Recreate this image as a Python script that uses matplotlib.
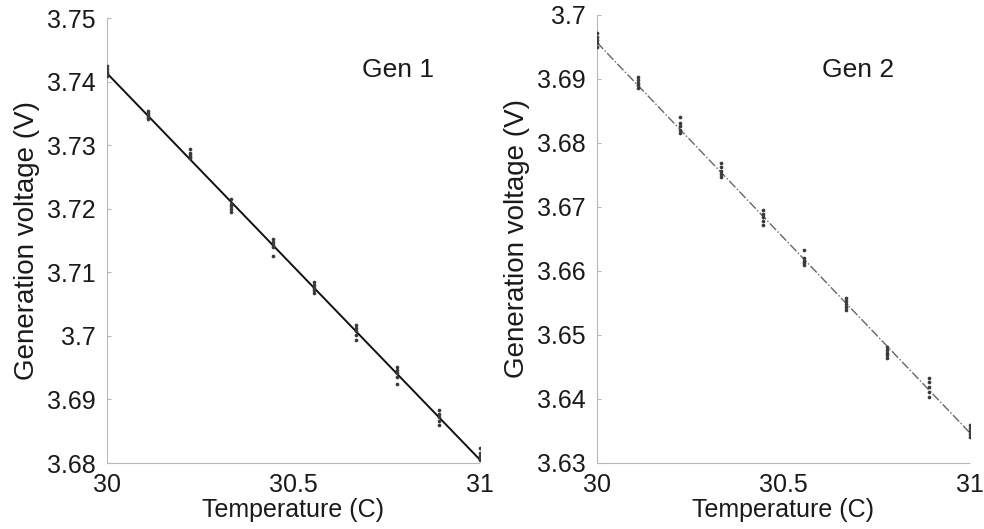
import numpy as np
import matplotlib; matplotlib.use("Agg")
import matplotlib.pyplot as plt

plt.rcParams['font.family'] = ['Liberation Sans', 'DejaVu Sans']

# temperatures (C) at which voltages were sampled
temps = [30.0, 30.111, 30.222, 30.333, 30.444, 30.556, 30.667, 30.778, 30.889, 31.0]

gen1_v = [
    [3.7425, 3.7420, 3.7415, 3.7412, 3.7409],
    [3.7354, 3.7350, 3.7347, 3.7344, 3.7341],
    [3.7294, 3.7288, 3.7284, 3.7281, 3.7279],
    [3.7215, 3.7208, 3.7204, 3.7200, 3.7195],
    [3.7153, 3.7147, 3.7143, 3.7139, 3.7125],
    [3.7084, 3.7080, 3.7076, 3.7072, 3.7068],
    [3.7017, 3.7012, 3.7007, 3.7001, 3.6993],
    [3.6951, 3.6946, 3.6941, 3.6936, 3.6924],
    [3.6883, 3.6877, 3.6872, 3.6866, 3.6860],
    [3.6823, 3.6816, 3.6811, 3.6807, 3.6804],
]
gen2_v = [
    [3.6972, 3.6966, 3.6961, 3.6956, 3.6950],
    [3.6903, 3.6898, 3.6894, 3.6890, 3.6886],
    [3.6841, 3.6831, 3.6826, 3.6821, 3.6816],
    [3.6769, 3.6763, 3.6757, 3.6752, 3.6747],
    [3.6695, 3.6689, 3.6684, 3.6678, 3.6672],
    [3.6633, 3.6620, 3.6616, 3.6612, 3.6609],
    [3.6558, 3.6553, 3.6548, 3.6543, 3.6539],
    [3.6481, 3.6476, 3.6472, 3.6468, 3.6464],
    [3.6433, 3.6426, 3.6419, 3.6411, 3.6403],
    [3.6359, 3.6355, 3.6350, 3.6345, 3.6341],
]

# linear fit lines (endpoints)
fit_x = [30.0, 31.0]
fit1_y = [3.7413, 3.6805]
fit2_y = [3.6957, 3.6347]

x_ticks = [30, 30.5, 31]
x_labels = ["30", "30.5", "31"]
y1_ticks = [3.68, 3.69, 3.70, 3.71, 3.72, 3.73, 3.74, 3.75]
y1_labels = ["3.68", "3.69", "3.7", "3.71", "3.72", "3.73", "3.74", "3.75"]
y2_ticks = [3.63, 3.64, 3.65, 3.66, 3.67, 3.68, 3.69, 3.70]
y2_labels = ["3.63", "3.64", "3.65", "3.66", "3.67", "3.68", "3.69", "3.7"]

DOT = "#3a3a3a"; SPINE = "#b8b8b8"; TXT = "#1a1a1a"

fig = plt.figure(figsize=(9.84, 5.29), dpi=100)
ax1 = fig.add_axes([107/984, 1-463/529, 373/984, 445/529])
ax2 = fig.add_axes([597/984, 1-463/529, 373/984, 448/529])

panels = [
    (ax1, gen1_v, fit1_y, dict(color="#111111", lw=1.4, ls='-'), (3.68, 3.75), y1_ticks, y1_labels, "Gen 1", (0.684, 0.883)),
    (ax2, gen2_v, fit2_y, dict(color="#666666", lw=1.0, ls='-.'), (3.63, 3.70), y2_ticks, y2_labels, "Gen 2", (0.603, 0.877)),
]

for ax, volts, fy, lstyle, ylim, yt, yl, name, tpos in panels:
    xs = np.repeat(temps, [len(v) for v in volts])
    ys = np.concatenate([np.array(v) for v in volts])
    ax.plot(fit_x, fy, zorder=2, **lstyle)
    ax.scatter(xs, ys, s=7, color=DOT, zorder=3, linewidths=0)
    ax.set_xlim(30, 31); ax.set_ylim(*ylim)
    ax.set_xticks(x_ticks); ax.set_xticklabels(x_labels)
    ax.set_yticks(yt); ax.set_yticklabels(yl)
    ax.tick_params(axis='y', direction='in', length=3, color=SPINE, labelsize=18, labelcolor=TXT, pad=8)
    ax.tick_params(axis='x', length=0, labelsize=18, labelcolor=TXT, pad=7)
    for s in ['top', 'right']:
        ax.spines[s].set_visible(False)
    ax.spines['left'].set_color(SPINE); ax.spines['left'].set_linewidth(0.8)
    ax.spines['bottom'].set_color(SPINE); ax.spines['bottom'].set_linewidth(0.8)
    ax.spines['bottom'].set_linestyle((0, (2, 1)))
    ax.set_xlabel("Temperature (C)", fontsize=18, color=TXT, labelpad=1)
    ax.set_ylabel("Generation voltage (V)", fontsize=20, color=TXT, labelpad=5)
    ax.text(tpos[0], tpos[1], name, transform=ax.transAxes, fontsize=19, color=TXT, va='center', ha='left')

plt.savefig("out.png", dpi=100, facecolor='white')
